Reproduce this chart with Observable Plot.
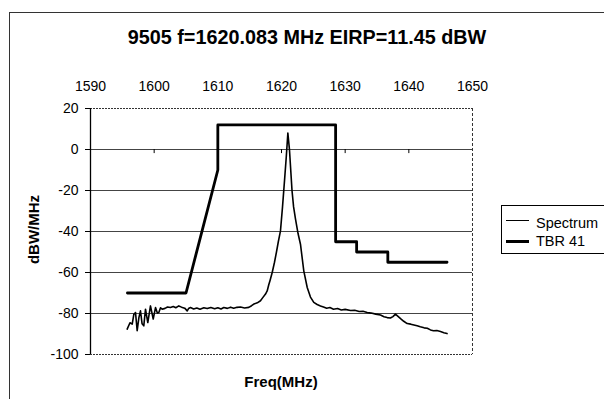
<!DOCTYPE html>
<html><head><meta charset="utf-8">
<script src="https://cdn.jsdelivr.net/npm/d3@7"></script>
<script src="https://cdn.jsdelivr.net/npm/@observablehq/plot@0.6"></script>
<style>
body{margin:0;background:#fff;overflow:hidden;}
#wrap{position:relative;width:604px;height:399px;overflow:hidden;font-family:"Liberation Sans",Arial,sans-serif;color:#000;background:#fff;}
#chart{position:absolute;left:0;top:0;}
#border{position:absolute;left:9px;top:12px;width:640px;height:440px;border:1px solid #333;}
#title{position:absolute;left:107px;width:400px;top:28px;font-size:19.8px;line-height:19.8px;font-weight:bold;text-align:center;white-space:nowrap;}
#xlab{position:absolute;left:181px;width:200px;top:374px;font-size:15px;line-height:15px;font-weight:bold;text-align:center;}
#ylab{position:absolute;left:-27px;width:120px;top:222px;height:15px;font-size:15px;line-height:15px;font-weight:bold;text-align:center;transform:rotate(-90deg);}
#legend{position:absolute;left:501px;top:205px;width:120px;height:47px;border:1px solid #000;background:#fff;}
.lg{position:absolute;left:4px;width:23px;background:#000;}
.lt{position:absolute;left:34px;font-size:14.5px;line-height:14.5px;white-space:nowrap;}
</style></head><body>
<div id="wrap">
  <div id="chart"></div>
  <div id="border"></div>
  <div id="title">9505 f=1620.083 MHz EIRP=11.45 dBW</div>
  <div id="ylab">dBW/MHz</div>
  <div id="xlab">Freq(MHz)</div>
  <div id="legend">
    <div class="lg" style="top:13.5px;height:1.3px"></div>
    <div class="lt" style="top:10px">Spectrum</div>
    <div class="lg" style="top:34px;height:2.6px"></div>
    <div class="lt" style="top:28px">TBR 41</div>
  </div>
</div>
<script>
// Tick values
const xTicks = [1590, 1600, 1610, 1620, 1630, 1640, 1650];
const yTicks = [20, 0, -20, -40, -60, -80, -100];

// Series "Spectrum" (frequency in MHz, level in dBW/MHz)
const specFreq = [1595.76,1596.2,1596.55,1596.8,1597.07,1597.33,1597.6,1597.85,1598.1,1598.37,1598.64,1599.0,1599.42,1599.85,1600.21,1600.5,1600.73,1601.0,1601.26,1601.7,1602.1,1602.56,1603.0,1603.4,1603.87,1604.3,1604.8,1605.19,1605.4,1605.71,1606.2,1606.7,1607.2,1607.8,1608.33,1608.9,1609.5,1610.0,1610.5,1610.94,1611.5,1612.0,1612.5,1613.0,1613.56,1614.2,1614.86,1615.3,1615.65,1616.2,1616.7,1617.0,1617.49,1617.75,1618.0,1618.19,1618.54,1618.9,1619.21,1619.5,1619.84,1620.16,1620.47,1620.74,1621.0,1621.25,1621.65,1621.9,1622.2,1622.6,1622.98,1623.5,1624.04,1624.55,1625.07,1625.6,1626.12,1626.6,1627.1,1627.6,1628.17,1628.8,1629.4,1630.0,1630.84,1631.5,1632.2,1632.8,1633.46,1634.1,1634.8,1635.55,1636.1,1636.6,1637.1,1637.5,1637.9,1638.3,1638.7,1639.2,1639.74,1640.3,1640.8,1641.3,1641.8,1642.4,1642.9,1643.4,1643.87,1644.4,1644.97,1645.5,1646.0];
const specLevel = [-87.6,-84.5,-85.2,-80.5,-79.5,-88.4,-82,-78.7,-85,-86,-77.9,-84.4,-76.3,-82.7,-77.1,-79.8,-79.5,-77.2,-77.9,-77.5,-76.8,-77.1,-76.6,-77.2,-76.3,-76.9,-77.4,-78.7,-77.6,-77.1,-77.8,-77.3,-77.9,-77.2,-77.6,-77.1,-77.7,-77.2,-77.8,-77.1,-77.5,-76.9,-77.4,-77.0,-76.8,-77.3,-77.0,-76.2,-75.4,-74.8,-73.8,-72.5,-70.5,-69,-66,-64,-60,-55,-50,-45,-39.7,-28,-15.3,-4,8,0,-20,-28,-34,-41,-46.2,-59.2,-67.3,-72,-74.6,-75.6,-76.3,-76.8,-77.4,-77.1,-77.9,-77.6,-78.3,-78.0,-78.5,-78.4,-79.0,-78.9,-79.5,-79.8,-80.3,-80.7,-81.6,-82.0,-82.2,-81.5,-80.3,-81.4,-82.5,-83.8,-84.9,-85.2,-85.6,-86.0,-86.5,-87.0,-87.2,-88.0,-88.4,-88.3,-88.8,-89.4,-89.8];

// Series "TBR 41" mask
const tbrFreq  = [1595.8, 1605, 1610, 1610, 1628.5, 1628.5, 1631.8, 1631.8, 1636.7, 1636.7, 1646];
const tbrLevel = [-70, -70, -10, 12, 12, -45, -45, -50, -50, -55, -55];

const spectrum = specFreq.map((f, i) => ({f, v: specLevel[i]}));
const tbr = tbrFreq.map((f, i) => ({f, v: tbrLevel[i]}));

const chart = Plot.plot({
  width: 604, height: 399,
  marginLeft: 90, marginRight: 132, marginTop: 108, marginBottom: 45,
  style: {fontFamily: "Liberation Sans, Arial, sans-serif", fontSize: "14px", color: "#000", background: "transparent", overflow: "visible"},
  x: {domain: [1590, 1650], label: null},
  y: {domain: [-100, 20], label: null},
  marks: [
    Plot.ruleY(yTicks.filter(d => d !== 20 && d !== -100), {stroke: "#444", strokeWidth: 1}),
    Plot.ruleY([20, -100], {stroke: "#333", strokeWidth: 1, strokeDasharray: "2,1"}),
    Plot.ruleX([1650], {stroke: "#333", strokeWidth: 1, strokeDasharray: "3,2"}),
    Plot.ruleX(xTicks.slice(1, -1), {x: d => d, y1: 0, y2: -2, stroke: "#000"}),
    Plot.line(spectrum, {x: "f", y: "v", stroke: "#000", strokeWidth: 1.6}),
    Plot.line(tbr, {x: "f", y: "v", stroke: "#000", strokeWidth: 2.8}),
    Plot.axisX({anchor: "top", ticks: xTicks, tickSize: 0, tickPadding: 18, tickFormat: d => String(d), label: null}),
    Plot.axisY({anchor: "left", ticks: yTicks, tickSize: 5, tickPadding: 7, tickFormat: d => String(d), label: null}),
    Plot.ruleX([1590], {stroke: "#000", strokeWidth: 1.3})
  ]
});
document.getElementById("chart").appendChild(chart);
</script>
</body></html>
